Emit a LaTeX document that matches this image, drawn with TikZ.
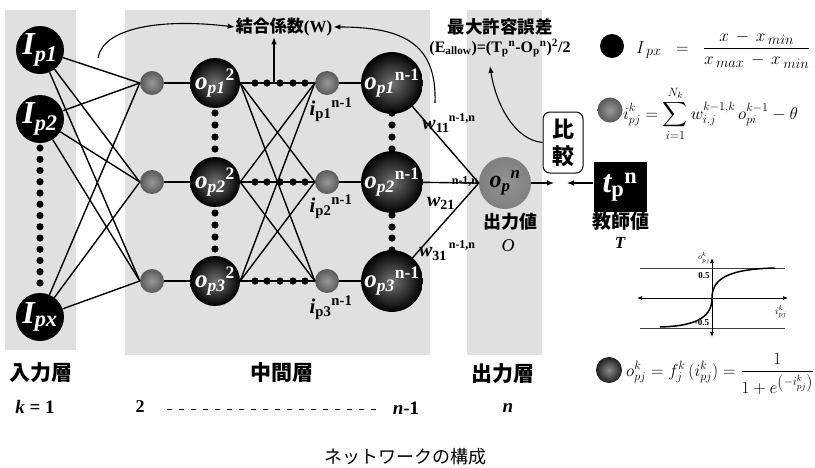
\documentclass[tikz,border=0pt]{standalone}
\usepackage{amsmath}
\usepackage{fontspec}
\setmainfont{Liberation Serif}
\newfontfamily\jp{Noto Sans CJK JP}
\usetikzlibrary{arrows.meta,calc}
\definecolor{bgc}{gray}{0.88}
\newcommand\nnIlabel[1]{\fontsize{32}{32}\selectfont\bfseries\itshape I\textsubscript{#1}}
\newcommand\nnOlabel[2]{\fontsize{25}{25}\selectfont\bfseries\itshape o\textsubscript{p#1}\textsuperscript{\upshape #2}}
\newcommand\nnilabel[1]{\fontsize{21}{21}\selectfont\bfseries{\itshape i}\textsubscript{p#1}\textsuperscript{n-1}}
\begin{document}
\begin{tikzpicture}[x=1pt,y=-1pt,
  inode/.style={circle,fill=black,minimum size=48pt,inner sep=0pt,text=white},
  hnode/.style={circle,minimum size=50pt,inner sep=0pt,shading=radial,inner color=black!55,outer color=black,text=white},
  snode/.style={circle,minimum size=24pt,inner sep=0pt,shading=radial,inner color=black!40,outer color=black!65},
  outnode/.style={circle,minimum size=52pt,inner sep=0pt,shading=radial,inner color=black!42,outer color=black!50},
  conn/.style={line width=1.4pt},
  arr/.style={line width=1.1pt,-{Latex[length=7pt,width=5.5pt]}},
  lab/.style={inner sep=1pt},
  dotc/.style={fill=black},
]
\useasboundingbox (0,0) rectangle (815,467);
\fill[white] (0,0) rectangle (815,467);
% background panels
\fill[bgc] (5,10) rectangle (76,350);
\fill[bgc] (125,10) rectangle (430,355);
\fill[bgc] (467,10) rectangle (542,355);

% input nodes
\node[inode] (I1) at (40,50) {\nnIlabel{p1}};
\node[inode] (I2) at (40,119) {\nnIlabel{p2}};
\node[inode] (Ix) at (40,317) {\nnIlabel{px}};
\foreach \k in {0,...,12} \fill[dotc] (40,{148+\k*11.25}) circle (3.6);

% layer 2 small nodes and o nodes
\node[snode] (s1) at (152,83) {};
\node[snode] (s2) at (152,182) {};
\node[snode] (s3) at (152,281) {};
\node[hnode] (a1) at (215,83) {\nnOlabel{1}{2}};
\node[hnode] (a2) at (215,182) {\nnOlabel{2}{2}};
\node[hnode] (a3) at (215,281) {\nnOlabel{3}{2}};
\foreach \y in {113,125,137,149,213,225,237,249} \fill[dotc] (215,\y) circle (3.6);

% layer n-1 small nodes and o nodes
\node[snode] (t1) at (327,83) {};
\node[snode] (t2) at (327,182) {};
\node[snode] (t3) at (327,281) {};
\node[hnode] (b1) at (392,83) {\nnOlabel{1}{n-1}};
\node[hnode] (b2) at (392,182) {\nnOlabel{2}{n-1}};
\node[hnode] (b3) at (392,281) {\nnOlabel{3}{n-1}};
\foreach \y in {113,125,137,149,215,227,238,250} \fill[dotc] (392,\y) circle (3.6);

% output node
\node[outnode] (out) at (505,183) {\fontsize{24}{24}\selectfont\bfseries\itshape o\textsubscript{p}\textsuperscript{n}};

% connections input -> layer 2
\foreach \i in {I1,I2,Ix} \foreach \j in {s1,s2,s3} \draw[conn] (\i) -- (\j.west);
\foreach \k in {1,2,3} \draw[conn] (s\k) -- (a\k);
% layer 2 -> layer n-1
\foreach \i in {a1,a2,a3} \foreach \j in {t1,t2,t3} \draw[conn] (\i.east) -- (\j.west);
\foreach \y in {83,182,281} \foreach \x in {255,267,280,293,305} \fill[dotc] (\x,\y) circle (3.6);
\foreach \k in {1,2,3} \draw[conn] (t\k) -- (b\k);
% layer n-1 -> output
\foreach \k in {1,2,3} \draw[conn] (b\k) -- (out.west);

% labels for i^{n-1}
\node[lab] (li1) at (331,110) {\nnilabel{1}};
\node[lab] (li2) at (331,207) {\nnilabel{2}};
\node[lab] (li3) at (331,308) {\nnilabel{3}};

% weight labels
\node[lab] (w1) at (436,126) {\fontsize{20}{20}\selectfont\bfseries{\itshape w}\textsubscript{11}};
\node[lab] (w1s) at (462,118) {\fontsize{12}{12}\selectfont\bfseries n-1,n};
\node[lab] (w2) at (441,203) {\fontsize{20}{20}\selectfont\bfseries{\itshape w}\textsubscript{21}};
\node[lab] (w2s) at (465,181) {\fontsize{12}{12}\selectfont\bfseries n-1,n};
\node[lab] (w3) at (433,254) {\fontsize{20}{20}\selectfont\bfseries{\itshape w}\textsubscript{31}};
\node[lab] (w3s) at (462,245) {\fontsize{12}{12}\selectfont\bfseries n-1,n};

% output value
\node[lab] (ov) at (510,222) {\fontsize{18}{18}\selectfont\jp\bfseries 出力値};
\node[lab] (ovO) at (508,246) {\fontsize{18}{18}\selectfont\itshape O};

% top labels
\node[lab] (W) at (284,27) {\fontsize{17}{17}\selectfont\bfseries{\jp 結合係数}(W)};
\node[lab] (M) at (500,27) {\fontsize{17.5}{18}\selectfont\jp\bfseries 最大許容誤差};
\node[lab] (E) at (500,48) {\fontsize{16}{16}\selectfont\bfseries (E\textsubscript{allow})=(T\textsubscript{p}\textsuperscript{n}-O\textsubscript{p}\textsuperscript{n})\textsuperscript{2}/2};

% coefficient arrows
\coordinate (wa) at (98,58);
\draw[arr] (wa) .. controls (103,28) and (160,18) .. (W.west);
\coordinate (wb) at (435,103);
\draw[arr] (wb) .. controls (437,45) and (405,27) .. (W.east);
\coordinate (wc) at (274,83);
\draw[arr] (wc) -- (wc |- W.south);

% compare box and teacher
\node[draw,rounded corners=7pt,line width=1pt,fill=white,minimum width=40pt,minimum height=61pt,align=center,inner sep=1pt,font={\fontsize{22}{27}\selectfont\jp\bfseries}] (cmp) at (563,142.5) {比\\較};
\coordinate (etip) at (490,66);
\draw[arr] (cmp.west) .. controls (515,140) and (496,105) .. (etip);
\node[fill=black,minimum width=53pt,minimum height=50pt,text=white,inner sep=0pt] (tb) at (620,187) {\fontsize{32}{32}\selectfont\bfseries{\itshape t}\textsubscript{p}\textsuperscript{n}};
\coordinate (oa) at (554,183);
\draw[arr] (out.east) -- (oa);
\coordinate (ta) at (567,183);
\draw[arr] (tb.west |- ta) -- (ta);
\node[lab] (tv) at (621,221) {\fontsize{19}{19}\selectfont\jp\bfseries 教師値};
\node[lab] (tvT) at (620,243) {\fontsize{17}{17}\selectfont\bfseries\itshape T};

% formulas on the right
\node[circle,fill=black,minimum size=24pt,inner sep=0pt] (d1) at (612,46) {};
\node[anchor=base west,inner sep=0pt] (f1) at (636,53) {\fontsize{19}{22}\selectfont$I_{\,px} \;\;=\;\; \dfrac{x \,-\, x_{\,min}}{x_{\,max} \,-\, x_{\,min}}$};
\node[snode,minimum size=25pt] (d2) at (610,110) {};
\node[anchor=base west,inner sep=0pt] (f2) at (623,119) {\fontsize{18.5}{22}\selectfont$\displaystyle i_{pj}^{k} = \sum_{i=1}^{N_k} w_{i,j}^{k-1,k}\, o_{pi}^{k-1} - \theta$};
\node[circle,minimum size=26pt,inner sep=0pt,shading=radial,inner color=black!45,outer color=black!88] (d3) at (609,370) {};
\node[anchor=base west,inner sep=0pt] (f3) at (626,376) {\fontsize{18}{22}\selectfont$o_{pj}^{k} = f_j^{k}\,(i_{pj}^{k}) = \dfrac{1}{1+e^{\left(-i_{pj}^{k}\right)}}$};

% sigmoid graph
\draw[black!75,line width=0.8pt] (640,268) -- (785,268);
\draw[black!75,line width=0.8pt] (640,328) -- (785,328);
\draw[line width=0.8pt,{Latex[length=5pt,width=4pt]}-{Latex[length=5pt,width=4pt]}] (637,298) -- (788,298);
\draw[line width=0.8pt,{Latex[length=5pt,width=4pt]}-{Latex[length=5pt,width=4pt]}] (712,337) -- (712,258);
\draw[line width=1.5pt] (660,327) .. controls (700,326) and (712,315) .. (712,298) .. controls (712,281) and (724,269) .. (775,268);
\node[inner sep=0pt] (sy) at (704,258) {\fontsize{8.5}{9}\selectfont$o_{pj}^{k}$};
\node[inner sep=0pt] (sp) at (704,276) {\fontsize{9}{9}\selectfont\bfseries 0.5};
\node[inner sep=0pt] (sm) at (702,323) {\fontsize{9}{9}\selectfont\bfseries -0.5};
\node[inner sep=0pt] (sx) at (781,312) {\fontsize{10}{10}\selectfont$i_{pj}^{k}$};

% bottom labels
\node[lab] (L1) at (41,373) {\fontsize{21}{21}\selectfont\jp\bfseries 入力層};
\node[lab] (L2) at (282,373) {\fontsize{21}{21}\selectfont\jp\bfseries 中間層};
\node[lab] (L3) at (503,374) {\fontsize{21}{21}\selectfont\jp\bfseries 出力層};
\node[lab] (k1) at (35,407) {\fontsize{19}{19}\selectfont\bfseries\textit{k} = 1};
\node[lab] (k2) at (140,407) {\fontsize{18}{18}\selectfont\bfseries 2};
\node[lab] (kn1) at (406,408) {\fontsize{19}{19}\selectfont\bfseries\textit{n}-1};
\node[lab] (kn) at (508,408) {\fontsize{19}{19}\selectfont\bfseries\itshape n};
\coordinate (dsa) at (167,409);
\coordinate (dsb) at (377,409);
\draw[dash pattern=on 5pt off 7pt,line width=0.9pt] (dsa) -- (dsb);

% caption
\node[lab] (cap) at (405,457) {\fontsize{18}{18}\selectfont\jp ネットワークの構成};
\end{tikzpicture}
\end{document}
